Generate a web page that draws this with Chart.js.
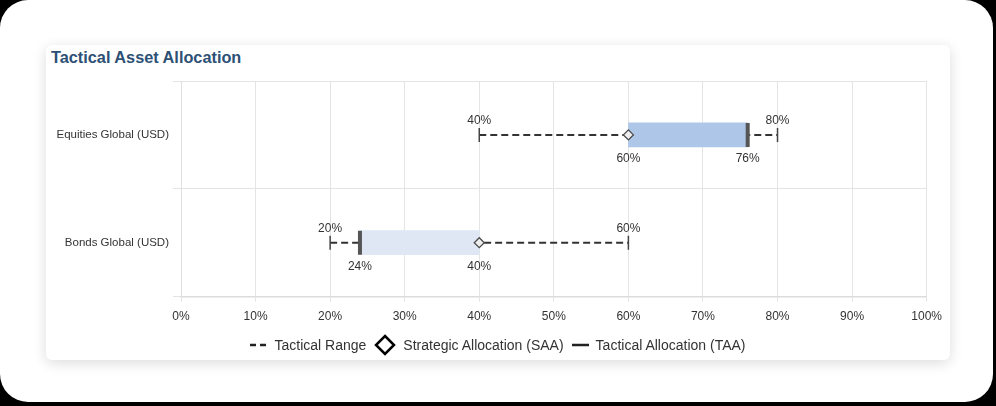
<!DOCTYPE html>
<html>
<head>
<meta charset="utf-8">
<script src="https://cdn.jsdelivr.net/npm/chart.js@4.4.1/dist/chart.umd.min.js"></script>
<style>
  body { margin: 0; background: #000; width: 996px; height: 406px; overflow: hidden; }
  .panel { position: absolute; left: 0; top: 0; width: 993px; height: 402px; background: #fff; border-radius: 28px; }
  .card { position: absolute; left: 46px; top: 45px; width: 904px; height: 315px; background: #fff; border-radius: 6px; box-shadow: 0 3px 14px rgba(0, 0, 0, 0.14); }
  .title { position: absolute; left: 5px; top: 3px; font: bold 16.3px "Liberation Sans", Arial, sans-serif; color: #2d5075; }
  .chartBox { position: absolute; left: 0; top: 20px; width: 904px; height: 270px; }
  .legend { position: absolute; left: 0; right: 0; top: 289px; display: flex; justify-content: center; align-items: center; font: 14px "Liberation Sans", sans-serif; color: #333; }
  .legend span { display: inline-flex; align-items: center; margin: 0 4px; }
  .legend svg { margin-right: 7px; }
</style>
</head>
<body>
<div class="panel"></div>
<div class="card">
  <div class="title">Tactical Asset Allocation</div>
  <div class="chartBox"><canvas id="taaChart"></canvas></div>
  <div class="legend">
    <span><svg width="17" height="4"><line x1="0" y1="2" x2="17" y2="2" stroke="#222" stroke-width="2.5" stroke-dasharray="6,4"/></svg>Tactical Range</span>
    <span><svg width="22" height="22"><polygon points="11,2 20,11 11,20 2,11" fill="#fff" stroke="#000" stroke-width="2.5"/></svg>Strategic Allocation (SAA)</span>
    <span><svg width="17" height="4"><line x1="0" y1="2" x2="17" y2="2" stroke="#222" stroke-width="2.5"/></svg>Tactical Allocation (TAA)</span>
  </div>
</div>

<script>
// Chart data
const categories = ["Equities Global (USD)", "Bonds Global (USD)"];
const rangeMin = [40, 20]; // tactical range low
const rangeMax = [80, 60]; // tactical range high
const saa = [60, 40]; // strategic allocation
const taa = [76, 24]; // tactical allocation
const xTicks = [0, 10, 20, 30, 40, 50, 60, 70, 80, 90, 100];

const FONT = "'Liberation Sans', Arial, sans-serif";
Chart.defaults.font.family = FONT;
Chart.defaults.color = "#333";

// Percent labels around each row
const valueLabels = {
  id: "valueLabels",
  afterDatasetsDraw(chart) {
    const { ctx, scales } = chart;
    ctx.save();
    ctx.font = "12px " + FONT;
    ctx.fillStyle = "#333";
    ctx.textAlign = "center";
    ctx.textBaseline = "middle";
    categories.forEach((c, i) => {
      const py = scales.y.getPixelForValue(i);
      ctx.fillText(rangeMin[i] + "%", scales.x.getPixelForValue(rangeMin[i]), py - 14);
      ctx.fillText(rangeMax[i] + "%", scales.x.getPixelForValue(rangeMax[i]), py - 14);
      ctx.fillText(saa[i] + "%", scales.x.getPixelForValue(saa[i]), py + 24);
      ctx.fillText(taa[i] + "%", scales.x.getPixelForValue(taa[i]), py + 24);
    });
    ctx.restore();
  },
};

const ctx = document.getElementById("taaChart").getContext("2d");
new Chart(ctx, {
  type: "bar",
  data: {
    labels: categories,
    datasets: [
      {
        label: "SAA",
        type: "line",
        order: 1,
        showLine: false,
        data: categories.map((c, i) => ({ x: saa[i], y: c })),
        pointStyle: "rectRot",
        pointRadius: 5,
        pointBackgroundColor: "#eeeeee",
        pointBorderColor: "#4a4a4a",
        pointBorderWidth: 1.3,
      },
      {
        label: "TAA",
        type: "line",
        order: 2,
        showLine: false,
        data: categories.map((c, i) => ({ x: taa[i], y: c })),
        pointStyle: "line",
        pointRotation: 90,
        pointRadius: 12,
        pointBorderWidth: 4,
        pointBorderColor: "#555",
      },
      {
        label: "Active",
        order: 3,
        data: categories.map((c, i) => [Math.min(saa[i], taa[i]), Math.max(saa[i], taa[i])]),
        backgroundColor: categories.map((c, i) => (taa[i] > saa[i] ? "#aec7e8" : "#dfe7f4")),
        barThickness: 24,
      },
      {
        label: "Tactical Range",
        type: "line",
        order: 4,
        data: categories.flatMap((c, i) => [
          { x: rangeMin[i], y: c },
          { x: rangeMax[i], y: c },
          { x: null, y: c },
        ]),
        spanGaps: false,
        borderColor: "#333",
        borderWidth: 2,
        borderDash: [7, 4],
        pointStyle: "line",
        pointRotation: 90,
        pointRadius: 7,
        pointBorderWidth: 1.5,
        pointBorderColor: "#444",
      },
    ],
  },
  options: {
    indexAxis: "y",
    responsive: true,
    maintainAspectRatio: false,
    animation: false,
    layout: { padding: { top: 6, right: 12, bottom: 3, left: 0 } },
    plugins: {
      legend: { display: false },
      tooltip: { enabled: false },
    },
    scales: {
      x: {
        min: 0,
        max: 100,
        afterBuildTicks: (scale) => {
          scale.ticks = xTicks.map((v) => ({ value: v }));
        },
        ticks: { callback: (v) => v + "%", font: { size: 12 }, padding: 8, maxRotation: 0 },
        grid: { color: "#e4e4e4", tickLength: 5 },
        border: { color: "#dcdcdc", width: 1.5 },
      },
      y: {
        afterFit: (scale) => {
          scale.width = 135;
        },
        ticks: { font: { size: 11.5 }, padding: 4 },
        grid: { color: "#e4e4e4", tickLength: 8, offset: true },
        border: { color: "#e0e0e0" },
      },
    },
  },
  plugins: [valueLabels],
});
</script>
</body>
</html>
